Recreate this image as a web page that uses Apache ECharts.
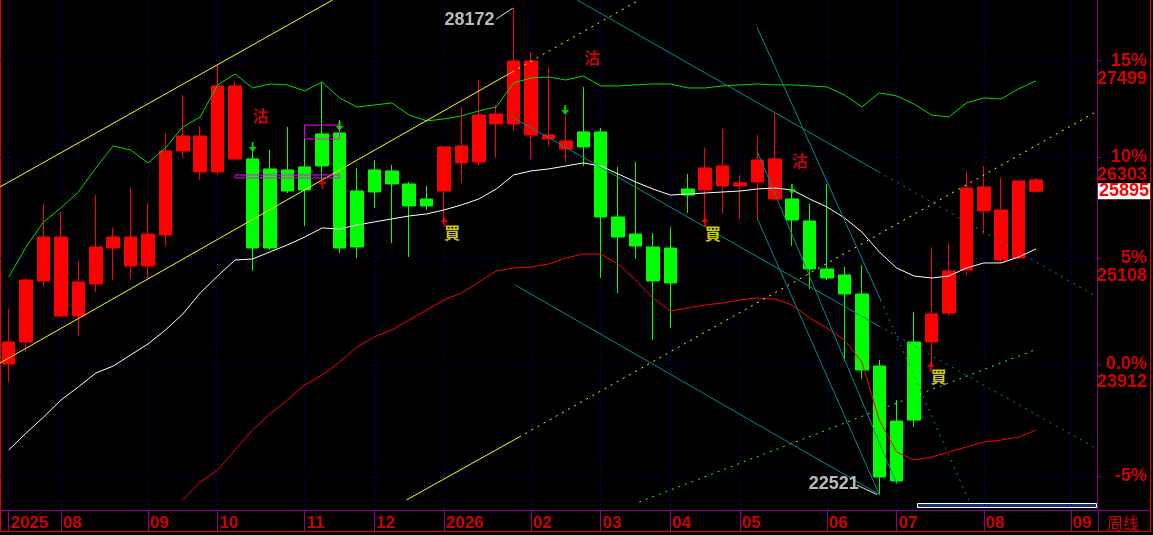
<!DOCTYPE html>
<html><head><meta charset="utf-8">
<script src="https://cdn.jsdelivr.net/npm/echarts@6/dist/echarts.min.js"></script>
<style>html,body{margin:0;padding:0;background:#000;}#c{width:1153px;height:535px;}</style>
</head><body><div id="c"></div>
<script>
// ---------- data ----------
const categories = ['2025-07-11','2025-07-18','2025-07-25','2025-08-01','2025-08-08','2025-08-15','2025-08-22','2025-08-29','2025-09-05','2025-09-12','2025-09-19','2025-09-26','2025-10-03','2025-10-10','2025-10-17','2025-10-24','2025-10-31','2025-11-07','2025-11-14','2025-11-21','2025-11-28','2025-12-05','2025-12-12','2025-12-19','2025-12-26','2026-01-02','2026-01-09','2026-01-16','2026-01-23','2026-01-30','2026-02-06','2026-02-13','2026-02-20','2026-02-27','2026-03-06','2026-03-13','2026-03-20','2026-03-27','2026-04-03','2026-04-10','2026-04-17','2026-04-24','2026-05-01','2026-05-08','2026-05-15','2026-05-22','2026-05-29','2026-06-05','2026-06-12','2026-06-19','2026-06-26','2026-07-03','2026-07-10','2026-07-17','2026-07-24','2026-07-31','2026-08-07','2026-08-14','2026-08-21','2026-08-28','2026-09-04','2026-09-11','2026-09-18'];
const monthTickIndex = [0,3,8,12,17,21,25,30,34,38,42,47,51,56,61];
const monthTickLabels = ['2025','08','09','10','11','12','2026','02','03','04','05','06','07','08','09'];

const opens  = [23915,24159,24847,24450,24450,24812,25227,25019,25019,25378,26380,26126,26126,26283,26283,26162,26150,26186,26587,26599,25898,26150,26138,25982,25803,25898,26235,26247,26710,26710,26575,26526,26404,26612,26612,25590,25390,25239,25227,25922,25910,25958,25958,26006,25803,25803,25543,24985,24916,24699,23893,23295,24159,24159,24483,24973,25661,25088,25111,25895];
const closes = [24159,24858,25355,25355,24835,25239,25355,25355,25390,26380,26563,26563,27181,27181,25227,25227,25898,25910,26198,25227,25239,25886,25982,25720,25720,26429,26441,26820,26833,27495,27495,26575,26502,26429,25590,25355,25250,24847,24824,25850,26174,26198,25994,26271,26283,25555,24985,24881,24699,23849,22703,22662,23306,24472,24962,25934,25946,25673,26018,26030];
const lows   = [23718,24048,24778,24439,24237,24721,24858,24870,24881,25250,26295,26030,26090,26283,24962,25204,25874,25484,26030,25169,25111,25697,25285,25123,25673,25520,25994,26198,26295,26624,26283,26441,26247,26198,24881,24710,25100,24181,24315,25638,25520,25626,25567,25567,25791,25250,24755,24858,23948,23751,22521,22630,23231,23882,24450,24916,25390,25054,25100,25874];
const highs  = [24528,24881,25744,25649,25077,25850,25461,25946,25756,26599,27068,26685,27445,27243,26392,26392,26673,26526,27231,26759,26174,26271,26210,26006,25958,26429,26919,27256,26944,28172,27610,27420,26820,27169,26661,26186,26247,25402,25472,26102,26416,26648,26090,26575,26845,25910,25744,25982,25008,25031,23959,23522,24495,25239,25285,26138,26198,26054,26018,26054];

const maWhite = [22987,23167,23338,23522,23664,23816,23893,24015,24137,24293,24472,24710,24904,25088,25100,25181,25262,25355,25461,25449,25496,25532,25567,25602,25626,25673,25732,25803,25922,26090,26138,26162,26198,26235,26198,26102,26006,25922,25850,25862,25874,25886,25898,25922,25934,25910,25803,25708,25579,25414,25181,24996,24904,24881,24904,24996,25054,25054,25123,25216];
const maGreen = [24893,25239,25532,25697,25886,26174,26441,26392,26235,26416,26673,26796,27194,27332,27156,27206,27194,27119,27231,27031,26919,26944,26969,26820,26747,26771,26808,26870,26919,27219,27281,27294,27256,27307,27181,27181,27194,27206,27206,27156,27156,27181,27194,27206,27194,27194,27181,27169,27068,26919,27094,27056,26956,26820,26796,26969,27031,27018,27144,27244];
const maRed = [null,null,null,null,null,null,null,null,null,null,22464,22651,22776,22987,23199,23371,23522,23686,23795,23937,24103,24215,24293,24405,24517,24631,24710,24835,24962,24996,25008,25042,25111,25158,25158,25042,24858,24654,24506,24540,24574,24597,24631,24654,24642,24574,24427,24315,24181,23937,23306,22966,22881,22913,22966,23019,23072,23093,23125,23199];

const basePrice = 23912;
const pctTickValues = [22716, 23912, 25108, 26303, 27499];
const pctTickLabels = ['-5%', '0.0%', '5%', '10%', '15%'];
const priceTickValues = [23912, 25108, 26303, 27499];
const lastPrice = 25895;
const yMin = 22361, yMax = 28278;

// trend lines: [slot index, price]
const yellowUpper       = [[-0.5, 25946], [18.6, 28278]];
const yellowLowerSolid  = [[-0.5, 23926], [28.92, 27357]];
const yellowLowerDotted = [[28.92, 27357], [36.21, 28278]];
const yellowLongSolid   = [[22.84, 22464], [29.32, 23125]];
const yellowLongDotted  = [[29.32, 23125], [62.42, 26857]];
const tealASolid  = [[32.65, 28278], [49.97, 26126]];
const tealADotted = [[49.97, 26126], [62.42, 24676]];
const tealBSolid  = [[28.92, 26796], [49.97, 24338]];
const tealBDotted = [[49.97, 24338], [62.42, 23008]];
const tealC       = [[29.09, 24801], [50, 22521]];
const tealSteepSolid  = [[42.97, 27929], [50.08, 24631]];
const tealSteepDotted = [[50.08, 24631], [55.13, 22464]];
const tealSteep2  = [[43, 25567], [50, 22521]];
const tealSteep3  = [[43, 26368], [51, 22630]];
const greenDotted = [[36.21, 22443], [58.92, 24070]];

// signals
const sellMarks = [[14.47, 26808], [33.51, 27533], [45.44, 26259]];
const buyMarks  = [[25.48, 25402], [40.45, 25390], [53.41, 23773]];
const downArrows = [[14.01, 26429], [19.0, 26685], [31.96, 26882], [44.98, 25922]];
const upArrows   = [[18.02, 25982], [25.02, 25532], [39.99, 25532], [52.95, 23882]];
const highLabelPos = [26.46, 28019];
const lowLabelPos  = [47.39, 22630];
const highLeader = [[28.0, 28030], [28.95, 28172]];
const lowLeader  = [[48.71, 22620], [49.86, 22521]];
const boxA = [[17, 26697], [19, 26526]];
const boxB = [[13, 26090], [19, 26054]];

// ---------- chart ----------
const candleData = opens.map((o, i) => [o, closes[i], lows[i], highs[i]]);
const RED = '#d40000', PURPLE = '#900090', GRIDC = '#0000b4', TEAL = '#008c8c';
const monthLabelAt = i => { const k = monthTickIndex.indexOf(i); return k >= 0 ? monthTickLabels[k] : ''; };

function seg(data, color, dotted, z) {
  return { type: 'line', xAxisIndex: 1, yAxisIndex: 0, data: data, showSymbol: false, symbol: 'none',
    silent: true, z: z || 3, lineStyle: { color: color, width: 1, type: dotted === true ? [2, 5] : (dotted || 'solid') } };
}
function marks(data, opt) {
  return Object.assign({ type: 'scatter', xAxisIndex: 1, yAxisIndex: 0, data: data, silent: true, z: 6 }, opt);
}
const arrowUp = 'path://M4,0 L8,5 L5,5 L5,10 L3,10 L3,5 L0,5 Z';
const arrowDown = 'path://M3,0 L5,0 L5,5 L8,5 L4,10 L0,5 L3,5 Z';
const yCommon = { type: 'log', min: yMin, max: yMax, position: 'right' };

const chart = echarts.init(document.getElementById('c'));
chart.setOption({
  backgroundColor: '#000',
  animation: false,
  grid: { left: 0, right: 54.5, top: 0, bottom: 25 },
  xAxis: [{
    type: 'category', data: categories, boundaryGap: true,
    axisLine: { onZero: false, lineStyle: { color: PURPLE, width: 1 } },
    axisTick: { show: true, alignWithLabel: true, length: 21, interval: (i) => monthTickIndex.indexOf(i) >= 0, lineStyle: { color: PURPLE } },
    axisLabel: { interval: (i) => monthTickIndex.indexOf(i) >= 0, formatter: (v, i) => monthLabelAt(i), align: 'left', padding: [0, 0, 0, 2],
      margin: 5, color: RED, fontSize: 17, fontWeight: 'bold', fontFamily: 'Liberation Sans' },
    splitLine: { show: false }
  }, {
    type: 'value', min: -0.5, max: 62.5, show: true, position: 'bottom',
    axisLine: { show: false, onZero: false },
    axisTick: { show: false, customValues: monthTickIndex },
    axisLabel: { show: false, customValues: monthTickIndex },
    splitLine: { show: true, lineStyle: { color: GRIDC, type: [1, 3], width: 1 } }
  }],
  yAxis: [Object.assign({}, yCommon, {
    axisLine: { show: true, onZero: false, lineStyle: { color: PURPLE } },
    axisTick: { show: true, length: 4, customValues: pctTickValues, lineStyle: { color: PURPLE } },
    splitLine: { show: true, lineStyle: { color: GRIDC, type: [1, 3], width: 1 } },
    axisLabel: { customValues: pctTickValues, formatter: (v) => { const k = pctTickValues.findIndex(x => Math.abs(x - v) < 2); return k >= 0 ? pctTickLabels[k] : ''; },
      align: 'right', margin: 50, verticalAlign: 'middle', color: RED, fontSize: 18, fontWeight: 'bold', fontFamily: 'Liberation Sans' }
  }), Object.assign({}, yCommon, {
    axisLine: { show: false, onZero: false }, axisTick: { show: false }, splitLine: { show: false },
    axisLabel: { customValues: priceTickValues, formatter: (v) => String(Math.round(v)), align: 'right', margin: 50, verticalAlign: 'top',
      padding: [10, 0, 0, 0], lineHeight: 16, color: RED, fontSize: 18, fontWeight: 'bold', fontFamily: 'Liberation Sans' }
  }), Object.assign({}, yCommon, {
    axisLine: { show: false, onZero: false }, axisTick: { show: false }, splitLine: { show: false },
    axisLabel: { customValues: [lastPrice], formatter: (v) => String(lastPrice), align: 'left', margin: 1, verticalAlign: 'middle',
      backgroundColor: '#ffffff', padding: [1, 1, 0, 1], lineHeight: 15, color: '#ff0000', fontSize: 18, fontWeight: 'bold', fontFamily: 'Liberation Sans' }
  })],
  series: [
    {
      type: 'candlestick', name: 'K', data: candleData, barWidth: 13, z: 2,
      itemStyle: { color: '#ff0000', color0: '#00ff00', borderColor: '#ff0000', borderColor0: '#00ff00', borderWidth: 1 },
      markArea: { silent: true, z: 4, itemStyle: { color: 'rgba(0,0,0,0)', borderColor: '#ff00ff', borderWidth: 1 },
        data: [boxA, boxB].map(b => [{ xAxis: b[0][0], yAxis: b[0][1] }, { xAxis: b[1][0], yAxis: b[1][1] }]) }
    },
    { type: 'line', data: maWhite, showSymbol: false, symbol: 'none', silent: true, z: 3, lineStyle: { color: '#ffffff', width: 1 } },
    { type: 'line', data: maGreen, showSymbol: false, symbol: 'none', silent: true, z: 3, lineStyle: { color: '#00e000', width: 1 } },
    { type: 'line', data: maRed, showSymbol: false, symbol: 'none', silent: true, z: 3, lineStyle: { color: '#ff0000', width: 1 } },
    seg(yellowUpper, '#ffff00', false),
    seg(yellowLowerSolid, '#ffff00', false),
    seg(yellowLowerDotted, '#ffff00', true),
    seg(yellowLongSolid, '#ffff00', false),
    seg(yellowLongDotted, '#ffff00', true),
    seg(tealASolid, TEAL, false),
    seg(tealADotted, TEAL, true),
    seg(tealBSolid, TEAL, false),
    seg(tealBDotted, TEAL, true),
    seg(tealC, TEAL, false),
    seg(tealSteepSolid, TEAL, false),
    seg(tealSteepDotted, TEAL, true),
    seg(tealSteep2, TEAL, false),
    seg(tealSteep3, TEAL, false),
    seg(greenDotted, '#33ff33', true),
    seg(highLeader, '#e8e8e8', false),
    seg(lowLeader, '#e8e8e8', false),
    marks(sellMarks, { symbolSize: 1, itemStyle: { color: 'rgba(0,0,0,0)' },
      label: { show: true, position: 'inside', formatter: '沽', color: '#ff0000', fontSize: 16, fontWeight: 'bold', fontFamily: 'Noto Sans CJK TC' } }),
    marks(buyMarks, { symbolSize: 1, itemStyle: { color: 'rgba(0,0,0,0)' },
      label: { show: true, position: 'inside', formatter: '買', color: '#ffff00', fontSize: 16, fontWeight: 'bold', fontFamily: 'Noto Sans CJK TC' } }),
    marks(downArrows, { symbol: arrowDown, symbolSize: [8, 10], itemStyle: { color: '#00ff00' } }),
    marks(upArrows, { symbol: arrowUp, symbolSize: [8, 10], itemStyle: { color: '#ff0000' } }),
    marks([highLabelPos], { symbolSize: 1, itemStyle: { color: 'rgba(0,0,0,0)' },
      label: { show: true, position: 'inside', formatter: () => String(Math.max.apply(null, highs)), color: '#e8e8e8', fontSize: 18, fontWeight: 'bold', fontFamily: 'Liberation Sans' } }),
    marks([lowLabelPos], { symbolSize: 1, itemStyle: { color: 'rgba(0,0,0,0)' },
      label: { show: true, position: 'inside', formatter: () => String(Math.min.apply(null, lows)), color: '#e8e8e8', fontSize: 18, fontWeight: 'bold', fontFamily: 'Liberation Sans' } })
  ],
  graphic: [
    { type: 'line', silent: true, shape: { x1: 0.5, y1: 0, x2: 0.5, y2: 531 }, style: { stroke: '#e00000', lineWidth: 1 } },
    { type: 'line', silent: true, shape: { x1: 1150.5, y1: 0, x2: 1150.5, y2: 532 }, style: { stroke: '#e00000', lineWidth: 1 } },
    { type: 'line', silent: true, shape: { x1: 0, y1: 531.5, x2: 1151, y2: 531.5 }, style: { stroke: '#e00000', lineWidth: 1 } },
    { type: 'line', silent: true, shape: { x1: 1098.5, y1: 510, x2: 1098.5, y2: 531 }, style: { stroke: PURPLE, lineWidth: 1 } },
    { type: 'line', silent: true, shape: { x1: 1098, y1: 510.5, x2: 1150, y2: 510.5 }, style: { stroke: PURPLE, lineWidth: 1 } },
    { type: 'rect', silent: true, shape: { x: 917.5, y: 503.5, width: 179, height: 4 }, style: { fill: '#1c2f6e', stroke: '#ffffff', lineWidth: 1 } },
    { type: 'text', silent: true, x: 1123, y: 523, style: { text: '周线', fill: RED, font: '16px "Noto Sans CJK SC"', align: 'center', verticalAlign: 'middle' } }
  ]
});
</script></body></html>
